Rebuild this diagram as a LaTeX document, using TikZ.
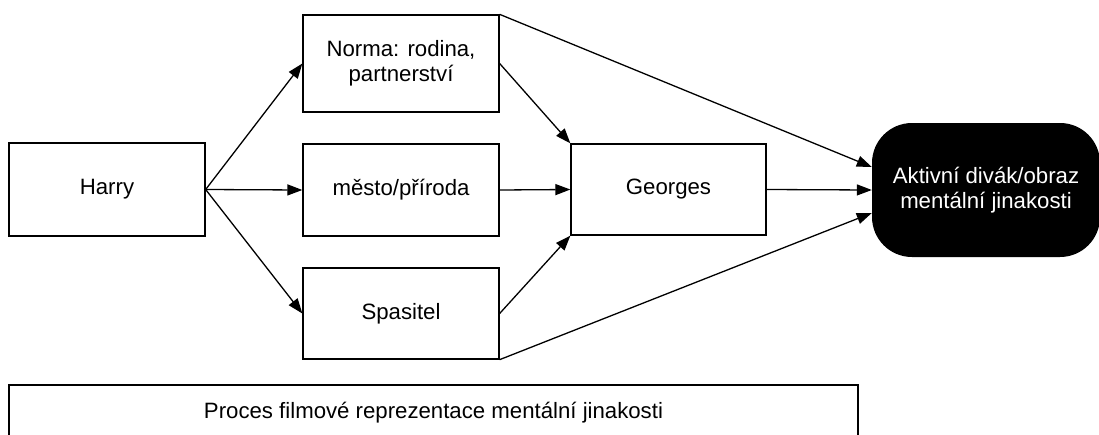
\documentclass[tikz,border=0pt]{standalone}
\usepackage{fontspec}
\setmainfont{Liberation Sans}
\usetikzlibrary{arrows.meta}
\begin{document}
\begin{tikzpicture}[x=1pt, y=-1pt,
  every node/.style={font=\fontsize{22.2}{25.5}\selectfont, inner sep=0pt, align=center},
  box/.style={draw=black, line width=1.3pt, fill=white},
  goal/.style={fill=black, text=white, rounded corners=40pt},
  link/.style={line width=1.3pt, -{Triangle[length=15pt, width=11pt]}}
]
\useasboundingbox (0,0) rectangle (1099,434);

% boxes
\node[box, minimum width=196pt, minimum height=93pt] (harry) at (107,189.5) {Harry};
\node[box, minimum width=196pt, minimum height=97pt] (norma) at (401,63.5) {Norma: rodina,\\partnerství};
\node[box, minimum width=196pt, minimum height=92pt] (mesto) at (401,190) {město/příroda};
\node[box, minimum width=196pt, minimum height=91pt] (spas) at (401,313.5) {Spasitel};
\node[box, minimum width=195pt, minimum height=91pt] (georges) at (668.5,189.5) {Georges};
\node[goal, minimum width=228pt, minimum height=134pt] (out) at (986,190) {Aktivní divák/obraz\\mentální jinakosti};
\node[box, minimum width=849pt, minimum height=56pt] (proces) at (433.5,413) {Proces filmové reprezentace mentální jinakosti};

% connectors
\draw[link] (harry.east) -- (norma.west);
\draw[link] (harry.east) -- (mesto.west);
\draw[link] (harry.east) -- (spas.west);
\draw[link] (norma.east) -- (georges.north west);
\draw[link] (mesto.east) -- (georges.west);
\draw[link] (spas.east) -- (georges.south west);
\draw[link] (norma.north east) -- ([yshift=23pt]out.west);
\draw[link] (georges.east) -- (out.west);
\draw[link] (spas.south east) -- ([yshift=-23pt]out.west);
\end{tikzpicture}
\end{document}
